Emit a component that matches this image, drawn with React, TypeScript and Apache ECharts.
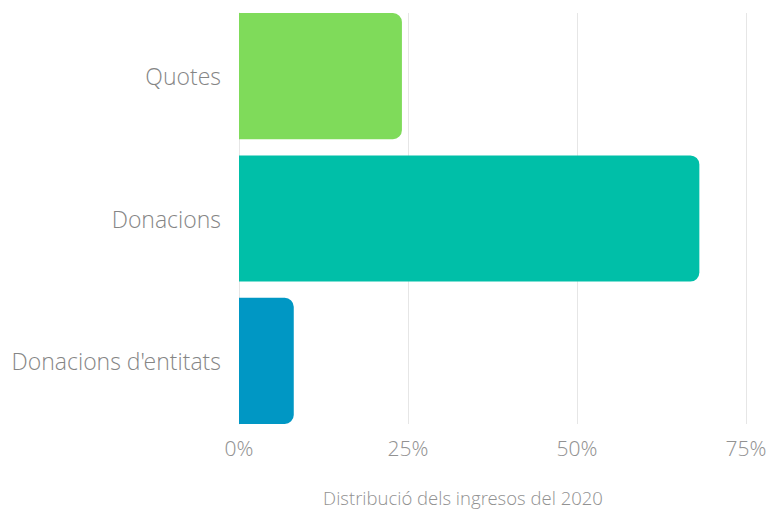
import React, { useEffect, useRef } from "react";
import * as echarts from "echarts";

const categories = ["Quotes", "Donacions", "Donacions d'entitats"];
const values = [24.1, 68.1, 8.1];
const barColors = ["#7FDB5A", "#00BFA8", "#0097C4"];
const xTicks = [0, 25, 50, 75];
const axisTitle = "Distribució dels ingresos del 2020";

const FONT = "'Open Sans Light', 'Open Sans', 'Noto Sans', sans-serif";

export default function App() {
  const ref = useRef<HTMLDivElement>(null);
  useEffect(() => {
    if (!ref.current) return;
    const chart = echarts.init(ref.current, undefined, { renderer: "svg" });
    const xMin = xTicks[0];
    const xMax = xTicks[xTicks.length - 1];
    const interval = xTicks[1] - xTicks[0];
    chart.setOption({
      animation: false,
      backgroundColor: "#ffffff",
      grid: [
        { left: 239, right: 25, top: 5, bottom: 78 },
        { left: 239, right: 25, top: 13, bottom: 86 },
      ],
      xAxis: [
        {
          gridIndex: 0,
          type: "value",
          min: xMin,
          max: xMax,
          interval,
          axisLine: { show: false },
          axisTick: { show: false },
          axisLabel: { show: false },
          splitLine: { show: false },
        },
        {
          gridIndex: 1,
          type: "value",
          min: xMin,
          max: xMax,
          interval,
          axisLine: { show: false },
          axisTick: { show: false },
          axisLabel: {
            show: true,
            margin: 13,
            formatter: "{value}%",
            color: "#929292",
            fontFamily: FONT,
            fontWeight: 300,
            fontSize: 21,
          },
          splitLine: { show: true, lineStyle: { color: "#e6e6e6", width: 1 } },
        },
      ],
      yAxis: [
        {
          gridIndex: 0,
          type: "category",
          data: categories,
          inverse: true,
          axisLine: { show: false },
          axisTick: { show: false },
          axisLabel: {
            margin: 18,
            color: "#858585",
            fontFamily: FONT,
            fontWeight: 300,
            fontSize: 23,
          },
        },
        {
          gridIndex: 1,
          type: "category",
          data: categories,
          inverse: true,
          axisLine: { show: true, lineStyle: { color: "#e6e6e6", width: 1 } },
          axisTick: { show: false },
          axisLabel: { show: false },
        },
      ],
      series: [
        {
          type: "bar",
          xAxisIndex: 0,
          yAxisIndex: 0,
          barCategoryGap: "11.4%",
          z: 3,
          data: values.map((v, i) => ({
            value: v,
            itemStyle: { color: barColors[i], borderRadius: [0, 9, 9, 0] },
          })),
        },
        {
          type: "bar",
          xAxisIndex: 1,
          yAxisIndex: 1,
          data: [],
          silent: true,
        },
      ],
      graphic: [
        {
          type: "text",
          x: 463,
          y: 497,
          style: {
            text: axisTitle,
            fill: "#929292",
            font: `300 18.5px ${FONT}`,
            align: "center",
            verticalAlign: "middle",
          },
        },
      ],
    });
    return () => chart.dispose();
  }, []);
  return (
    <div
      ref={ref}
      style={{ position: "fixed", left: 0, top: 0, width: 771, height: 510 }}
    />
  );
}
